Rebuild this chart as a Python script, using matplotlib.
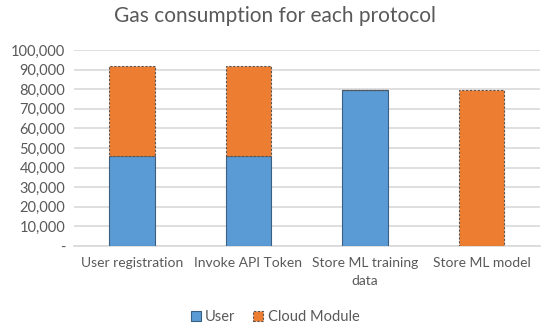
import matplotlib
matplotlib.use("Agg")
import matplotlib.pyplot as plt
from matplotlib.ticker import FuncFormatter, MultipleLocator
import numpy as np

# --- data ---
categories = ["User registration", "Invoke API Token", "Store ML training\ndata", "Store ML model"]
user_gas = [46000, 46000, 79500, 0]
cloud_gas = [46000, 46000, 0, 79500]

plt.rcParams['font.family'] = ['Lato', 'DejaVu Sans']

W, H = 550, 329
fig = plt.figure(figsize=(W / 100, H / 100), dpi=100)
ax = fig.add_axes([73.5 / W, 83 / H, (540 - 73.5) / W, 196 / H])

x = np.arange(len(categories))
bw = 0.39
blue = "#5b9bd5"
orange = "#ed7d31"

ax.bar(x, user_gas, bw, color=blue, edgecolor="#3a5f80", linewidth=0.8,
       label="User", zorder=3)
ax.bar(x, cloud_gas, bw, bottom=user_gas, color=orange, edgecolor="#555555",
       linewidth=0.8, linestyle=(0, (2, 1.5)), label="Cloud Module", zorder=3)

ax.set_xlim(-0.5, len(categories) - 0.5)
ax.set_ylim(0, 100000)
ax.yaxis.set_major_locator(MultipleLocator(10000))
ax.yaxis.set_major_formatter(FuncFormatter(lambda v, p: "-" if v == 0 else f"{int(v):,}"))
ax.grid(axis="y", color="#d9d9d9", linewidth=1.2, zorder=0)
ax.set_axisbelow(True)

for s in ["top", "right", "left"]:
    ax.spines[s].set_visible(False)
ax.spines["bottom"].set_color("#d9d9d9")
ax.spines["bottom"].set_linewidth(1.2)

ax.set_xticks(x)
ax.set_xticklabels(categories, fontsize=10, color="#595959", linespacing=1.55)
ax.tick_params(axis="both", length=0, labelcolor="#595959")
ax.tick_params(axis="x", pad=8, labelsize=10)
ax.tick_params(axis="y", pad=6, labelsize=10.5)

fig.text(0.5, 1 - 16 / H, "Gas consumption for each protocol", ha="center", va="center",
         fontsize=15, color="#595959")

leg = fig.legend(loc="center", bbox_to_anchor=(0.5, 1 - 317 / H), ncol=2, frameon=False,
                 fontsize=10.5, handlelength=0.7, handleheight=0.7, handletextpad=0.3,
                 columnspacing=1.2)
for t in leg.get_texts():
    t.set_color("#595959")

fig.savefig("out.png", dpi=100)
